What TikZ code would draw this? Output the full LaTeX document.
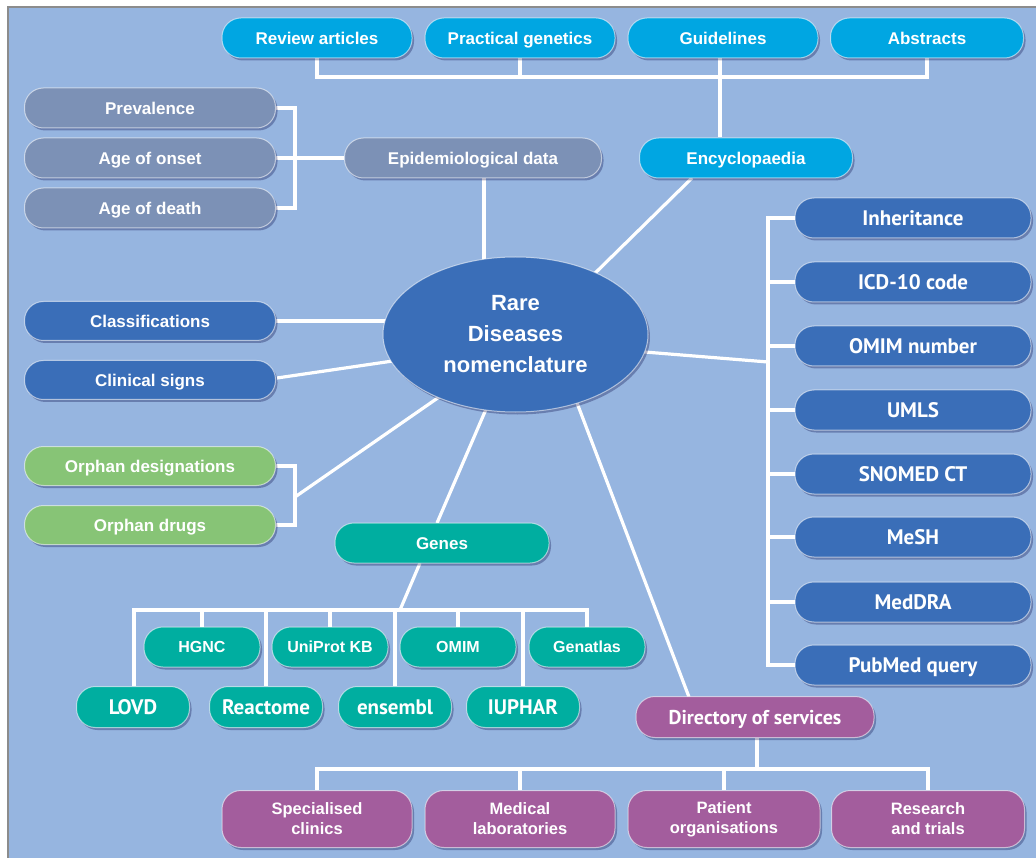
\documentclass[tikz,border=0pt]{standalone}
\usepackage{fontspec}
\setmainfont{Liberation Sans}
\newfontfamily\ptsans{PT Sans}
\usetikzlibrary{shapes.geometric,shadows}
\definecolor{bgblue}{RGB}{150,181,224}
\definecolor{frameline}{RGB}{140,140,140}
\definecolor{cyanfill}{RGB}{0,166,226}
\definecolor{grayfill}{RGB}{124,145,182}
\definecolor{bluefill}{RGB}{58,110,184}
\definecolor{greenfill}{RGB}{135,196,118}
\definecolor{tealfill}{RGB}{0,174,160}
\definecolor{purplefill}{RGB}{163,93,157}
\pgfdeclarelayer{background}
\pgfsetlayers{background,main}
\begin{document}
\begin{tikzpicture}[x=1pt,y=-1pt,
  boxshadow/.style={drop shadow={shadow xshift=2pt,shadow yshift=-2.5pt,opacity=0.3,fill=black!75!blue}},
  pill/.style={rounded corners=19pt, draw=white, draw opacity=0.55, line width=1pt,
    text=white, inner sep=0pt, align=center, minimum height=40pt, boxshadow},
  sansb/.style={font=\fontsize{17}{20}\selectfont\bfseries, text height=12.4pt, text depth=0pt},
  ptb/.style={font=\ptsans\bfseries\fontsize{21}{24}\selectfont, text height=14.7pt, text depth=0pt},
  cyanbox/.style={pill, sansb, fill=cyanfill, minimum width=190pt},
  graybox/.style={pill, sansb, fill=grayfill},
  leftbox/.style={pill, sansb, fill=bluefill, minimum width=251pt, minimum height=39pt},
  greenbox/.style={pill, sansb, fill=greenfill, minimum width=251pt, minimum height=39pt},
  codebox/.style={pill, ptb, fill=bluefill, minimum width=236pt},
  genebox/.style={pill, font=\fontsize{16}{19}\selectfont\bfseries, text height=11.7pt, text depth=0pt,
    fill=tealfill, minimum width=116pt},
  dbbox/.style={pill, ptb, fill=tealfill, minimum width=113pt, minimum height=41pt},
  svcbox/.style={pill, fill=purplefill, font=\fontsize{16.5}{20}\selectfont\bfseries, minimum height=57pt},
  wire/.style={draw=white, line width=3.2pt}
]
\useasboundingbox (0,0) rectangle (1036,858);

% literature row
\node[cyanbox] (rev) at (317,38) {Review articles};
\node[cyanbox] (prac) at (520,38) {Practical genetics};
\node[cyanbox] (guide) at (723,38) {Guidelines};
\node[cyanbox, minimum width=193pt] (abs) at (927,38) {Abstracts};
\node[cyanbox, minimum width=213pt] (enc) at (746,158) {Encyclopaedia};

% epidemiology
\node[graybox, minimum width=257pt] (epi) at (473,158) {Epidemiological data};
\node[graybox, minimum width=251pt] (prev) at (150,108) {Prevalence};
\node[graybox, minimum width=251pt] (onset) at (150,158) {Age of onset};
\node[graybox, minimum width=251pt] (death) at (150,208) {Age of death};

% centre
\node[ellipse, fill=bluefill, draw=white, draw opacity=0.55, line width=1pt, boxshadow,
  minimum width=265pt, minimum height=155pt, inner sep=0pt, text=white, align=center,
  font=\bfseries\fontsize{22}{31}\selectfont] (ell) at (515.5,334.5)
  {\textbf{Rare}\\\textbf{Diseases}\\\textbf{nomenclature}};

% left side
\node[leftbox] (cls) at (150,321) {Classifications};
\node[leftbox] (clin) at (150,380) {Clinical signs};
\node[greenbox] (odes) at (150,466) {Orphan designations};
\node[greenbox] (odrug) at (150,525) {Orphan drugs};

% coding systems
\node[codebox] (inh) at (913,218) {Inheritance};
\node[codebox] (icd) at (913,282) {ICD-10 code};
\node[codebox] (omimn) at (913,346) {OMIM number};
\node[codebox] (umls) at (913,410) {UMLS};
\node[codebox] (snomed) at (913,474) {SNOMED CT};
\node[codebox] (mesh) at (913,537) {MeSH};
\node[codebox] (meddra) at (913,602) {MedDRA};
\node[codebox] (pubmed) at (913,665) {PubMed query};

% genes
\node[genebox, font=\fontsize{17}{20}\selectfont\bfseries, text height=12.4pt, minimum width=214pt] (genes) at (442,543) {Genes};
\node[genebox] (hgnc) at (202,647) {HGNC};
\node[genebox] (uni) at (330,647) {UniProt KB};
\node[genebox] (omim) at (458,647) {OMIM};
\node[genebox] (genat) at (587,647) {Genatlas};
\node[dbbox] (lovd) at (133,707) {LOVD};
\node[dbbox] (react) at (266,707) {Reactome};
\node[dbbox] (ens) at (395,707) {ensembl};
\node[dbbox] (iuphar) at (523,707) {IUPHAR};

% services
\node[pill, ptb, font=\ptsans\bfseries\fontsize{20}{23}\selectfont, text height=14pt, fill=purplefill, minimum width=238pt, minimum height=41pt] (dir) at (755,717) {Directory of services};
\node[svcbox, minimum width=190pt] (spec) at (317,819) {Specialised\\clinics};
\node[svcbox, minimum width=190pt] (med) at (520,819) {Medical\\laboratories};
\node[svcbox, minimum width=192pt] (pat) at (724,819) {Patient\\organisations};
\node[svcbox, minimum width=193pt] (res) at (928,819) {Research\\and trials};

\begin{pgfonlayer}{background}
  % page and frame
  \fill[white] (0,0) rectangle (1036,858);
  \fill[bgblue] (9,8) rectangle (1036,858);
  \draw[frameline, line width=2pt] (8,858) -- (8,7) -- (1036,7);

  \begin{scope}[wire]
    % literature bracket
    \coordinate (tbar) at (0,77);
    \coordinate (gx) at (720,0);
    \draw (rev.south) -- (rev.south |- tbar) -- (abs.south |- tbar) -- (abs.south);
    \draw (prac.south) -- (prac.south |- tbar);
    \draw (guide.south -| gx) -- (enc.north -| gx);
    % encyclopaedia to centre
    \coordinate (encfoot) at (692,178);
    \coordinate (encin) at (585,283);
    \draw (encfoot) -- (encin);

    % epidemiology bracket
    \coordinate (ebx) at (295,0);
    \draw (prev.east) -- (prev.east -| ebx) -- (death.east -| ebx) -- (death.east);
    \draw (onset.east) -- (epi.west);
    \coordinate (epix) at (484,0);
    \draw (epi.south -| epix) -- (ell.center -| epix);

    % left side to centre
    \draw (cls.east) -- (cls.east -| ell.center);
    \coordinate (clinout) at (277,378);
    \coordinate (clinin) at (420,357);
    \draw (clinout) -- (clinin);
    \coordinate (obx) at (295,0);
    \draw (odes.east) -- (odes.east -| obx) -- (odrug.east -| obx) -- (odrug.east);
    \coordinate (obmid) at (295,497);
    \coordinate (obin) at (455,386);
    \draw (obmid) -- (obin);

    % codes bracket
    \coordinate (cbx) at (768,0);
    \draw (inh.west) -- (inh.west -| cbx) -- (pubmed.west -| cbx) -- (pubmed.west);
    \foreach \n in {icd,omimn,umls,snomed,mesh,meddra}
      \draw (\n.west) -- (\n.west -| cbx);
    \coordinate (cin) at (620,350);
    \coordinate (cbmid) at (768,362);
    \draw (cin) -- (cbmid);

    % genes
    \coordinate (gtop) at (437,523);
    \coordinate (gin) at (490,400);
    \draw (gtop) -- (gin);
    \coordinate (gbot) at (420,563);
    \coordinate (gbar) at (0,610);
    \coordinate (gjoin) at (400,610);
    \draw (gbot) -- (gjoin);
    \draw (lovd.north -| 134,0) -- (134,610) -- (587,610) -- (genat.north);
    \draw (hgnc.north) -- (hgnc.north |- gbar);
    \draw (react.north) -- (react.north |- gbar);
    \draw (uni.north) -- (uni.north |- gbar);
    \draw (ens.north) -- (ens.north |- gbar);
    \draw (omim.north) -- (omim.north |- gbar);
    \draw (iuphar.north) -- (iuphar.north |- gbar);

    % services
    \coordinate (din) at (574,395);
    \coordinate (dtop) at (689,697);
    \draw (din) -- (dtop);
    \coordinate (sbar) at (0,769);
    \coordinate (dx) at (757,0);
    \draw (dir.south -| dx) -- (sbar -| dx);
    \draw (spec.north) -- (spec.north |- sbar) -- (res.north |- sbar) -- (res.north);
    \draw (med.north) -- (med.north |- sbar);
    \draw (pat.north) -- (pat.north |- sbar);
  \end{scope}
\end{pgfonlayer}
\end{tikzpicture}
\end{document}
